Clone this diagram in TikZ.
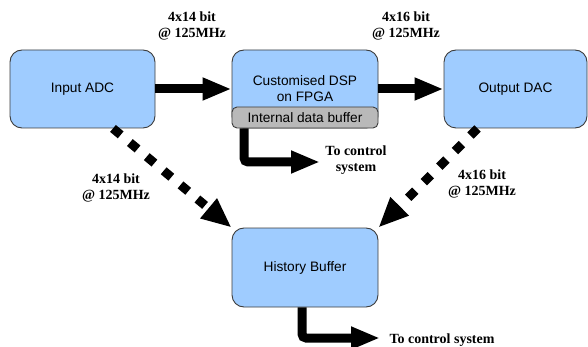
\documentclass[tikz,border=0pt]{standalone}
\usepackage{fontspec}
\setmainfont{Liberation Serif}
\setsansfont{Liberation Sans}
\usetikzlibrary{arrows.meta}

\definecolor{boxblue}{RGB}{159,204,255}
\definecolor{bufgrey}{RGB}{185,185,185}
\definecolor{edgegrey}{RGB}{60,60,60}

\tikzset{
  block/.style={draw=edgegrey, line width=0.9pt, fill=boxblue, rounded corners=12pt,
    inner sep=0pt, align=center, font=\sffamily\fontsize{13.7}{16}\selectfont},
  rate/.style={align=center, inner sep=1pt, font=\bfseries\fontsize{14}{16}\selectfont},
  flow/.style={line width=9pt, rounded corners=4pt, -{Triangle[length=29pt,width=21pt]}},
  dflow/.style={line width=9pt, dash pattern=on 10pt off 12pt, -{Triangle[length=30pt,width=24pt]}},
}

\begin{document}
\begin{tikzpicture}[x=1pt, y=-1pt]
    \useasboundingbox (0,0) rectangle (588,347);

    % Blocks
    \node[block, minimum width=145pt, minimum height=78pt] (adc) at (82.5,89) {Input ADC};
    \node[block, minimum width=146pt, minimum height=78pt] (dsp) at (305,89) {Customised DSP\\on FPGA};
    \node[block, fill=bufgrey, rounded corners=5pt, minimum width=146pt, minimum height=21pt] (buf) at (305,117.5) {Internal data buffer};
    \node[block, minimum width=143pt, minimum height=78pt] (dac) at (515.5,89) {Output DAC};
    \node[block, minimum width=146pt, minimum height=79pt] (hist) at (305,267.5) {History Buffer};

    % Labels
    \node[rate] (rin) at (192,26) {4x14 bit\\@ 125MHz};
    \node[rate] (rout) at (406,26) {4x16 bit\\@ 125MHz};
    \node[rate] (rhin) at (116,188) {4x14 bit\\@ 125MHz};
    \node[rate] (rhout) at (482,184) {4x16 bit\\@ 125MHz};
    \node[rate] (ctl1) at (356,160) {To control\\system};
    \node[rate] (ctl2) at (442,340) {To control system};

    \coordinate (ctl1end) at (320,162);
    \coordinate (ctl2end) at (380,338);

    % Draw data paths
    \draw[flow] (adc.east) -- (dsp.west);
    \draw[flow] (dsp.east) -- (dac.west);
    \draw[flow] ([xshift=-61pt]buf.south) |- (ctl1end);
    \draw[flow] ([xshift=-3pt]hist.south) |- (ctl2end);

    \draw[dflow] ([xshift=30.5pt]adc.south) -- (hist.north west);
    \draw[dflow] ([xshift=-38pt]dac.south) -- (hist.north east);
\end{tikzpicture}
\end{document}
